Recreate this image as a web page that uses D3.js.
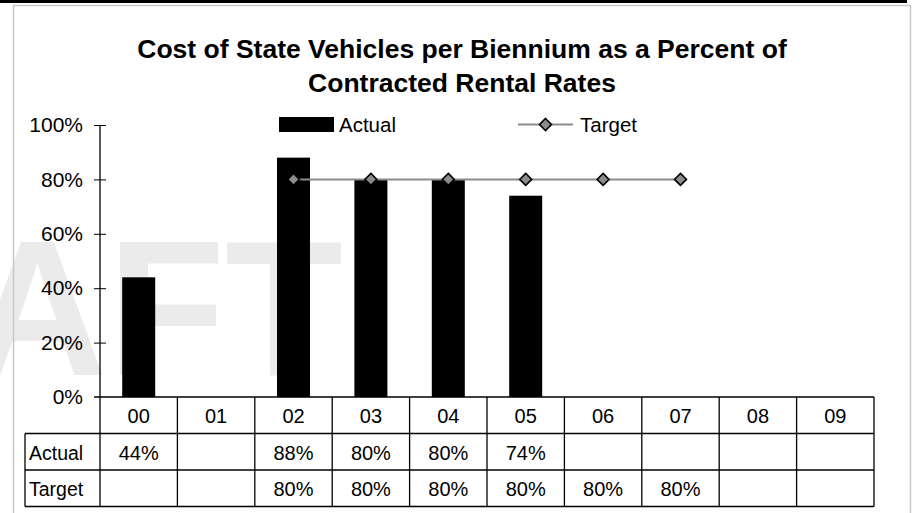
<!DOCTYPE html>
<html>
<head>
<meta charset="utf-8">
<script src="https://cdn.jsdelivr.net/npm/d3@7"></script>
<style>
  body { margin: 0; background: #fff; }
  text { font-family: Arial, "Liberation Sans", sans-serif; }
</style>
</head>
<body>
<script>
var categories = ['00', '01', '02', '03', '04', '05', '06', '07', '08', '09'],
    actual = [0.44, null, 0.88, 0.80, 0.80, 0.74, null, null, null, null],
    target = [null, null, 0.80, 0.80, 0.80, 0.80, 0.80, 0.80, null, null],
    yTicks = [0, 0.2, 0.4, 0.6, 0.8, 1.0],
    titleLines = ['Cost of State Vehicles per Biennium as a Percent of', 'Contracted Rental Rates'];

var width = 912,
    height = 513,
    plotLeft = 100, plotRight = 874,
    plotTop = 125, plotBottom = 397,
    rowH = 36.5;

var svg = d3.select('body').append('svg')
    .attr('width', width)
    .attr('height', height);

svg.append('rect').attr('width', width).attr('height', height).attr('fill', '#fff');

// watermark
svg.append('text')
    .attr('x', 343).attr('y', 375)
    .attr('text-anchor', 'end')
    .attr('font-size', 193)
    .attr('font-weight', 'bold')
    .attr('fill', '#ebebeb')
    .text('DRAFT');

// page edge + chart frame
svg.append('rect').attr('x', 0).attr('y', 0).attr('width', 907).attr('height', 3).attr('fill', '#000');
svg.append('rect')
    .attr('x', 13.5).attr('y', 5.5)
    .attr('width', 897).attr('height', 530)
    .attr('fill', 'none')
    .attr('stroke', '#c8c8c8')
    .attr('stroke-width', 1.5);

var x = d3.scaleBand().domain(categories).range([plotLeft, plotRight]).padding(0);
var y = d3.scaleLinear().domain([0, 1]).range([plotBottom, plotTop]);

// title
svg.append('g').selectAll('text')
    .data(titleLines)
    .enter().append('text')
    .attr('x', 462)
    .attr('y', (d, i) => 58 + i * 33.5)
    .attr('text-anchor', 'middle')
    .attr('font-size', 26.5)
    .attr('font-weight', 'bold')
    .text(d => d);

// y axis
var yAxis = svg.append('g')
    .attr('transform', 'translate(' + plotLeft + ',0)')
    .call(d3.axisLeft(y).tickValues(yTicks).tickFormat(d3.format('.0%')).tickSize(6).tickPadding(11));
yAxis.select('.domain').remove();
yAxis.selectAll('.tick line').attr('x2', d => d === 0 ? -6 : 6).attr('x1', -6).attr('stroke', '#000');
yAxis.selectAll('.tick text')
    .attr('font-size', 21)
    .attr('font-family', 'Arial, "Liberation Sans", sans-serif')
    .attr('fill', '#000');

// bars
var barW = 33;
svg.append('g').selectAll('rect')
    .data(categories.map((c, i) => ({c: c, v: actual[i]})).filter(d => d.v != null))
    .enter().append('rect')
    .attr('x', d => x(d.c) + x.bandwidth() / 2 - barW / 2)
    .attr('y', d => y(d.v))
    .attr('width', barW)
    .attr('height', d => y(0) - y(d.v))
    .attr('fill', '#000');

// target line
var tgt = categories.map((c, i) => ({c: c, v: target[i]})).filter(d => d.v != null);
var line = d3.line()
    .x(d => x(d.c) + x.bandwidth() / 2)
    .y(d => y(d.v));
svg.append('path')
    .datum(tgt)
    .attr('d', line)
    .attr('fill', 'none')
    .attr('stroke', '#8c8c8c')
    .attr('stroke-width', 2);

var diamond = 'M0,-6L6,0L0,6L-6,0Z';
svg.append('g').selectAll('path')
    .data(tgt)
    .enter().append('path')
    .attr('transform', d => 'translate(' + (x(d.c) + x.bandwidth() / 2) + ',' + y(d.v) + ')')
    .attr('d', diamond)
    .attr('fill', '#8c8c8c')
    .attr('stroke', '#000')
    .attr('stroke-width', 1.6);

// legend
var legend = svg.append('g').attr('font-size', 20.5);
legend.append('rect').attr('x', 279).attr('y', 117).attr('width', 55).attr('height', 15).attr('fill', '#000');
legend.append('text').attr('x', 339).attr('y', 131.5).text('Actual');
legend.append('line').attr('x1', 518).attr('x2', 573).attr('y1', 124.5).attr('y2', 124.5)
    .attr('stroke', '#8c8c8c').attr('stroke-width', 2);
legend.append('path').attr('transform', 'translate(545.5,124.5)').attr('d', diamond)
    .attr('fill', '#8c8c8c').attr('stroke', '#000').attr('stroke-width', 1.6);
legend.append('text').attr('x', 580).attr('y', 131.5).text('Target');

// data table
var table = svg.append('g').attr('stroke', '#000').attr('stroke-width', 1.3);
var tableLeft = 25;
// axis line running down into the table
table.append('line').attr('x1', plotLeft).attr('x2', plotLeft).attr('y1', plotTop).attr('y2', plotBottom + 3 * rowH);
table.append('line').attr('x1', plotLeft - 6).attr('x2', plotRight).attr('y1', plotBottom).attr('y2', plotBottom);
[1, 2, 3].forEach(function (r) {
    table.append('line').attr('x1', tableLeft).attr('x2', plotRight)
        .attr('y1', plotBottom + r * rowH).attr('y2', plotBottom + r * rowH);
});
table.append('line').attr('x1', tableLeft).attr('x2', tableLeft)
    .attr('y1', plotBottom + rowH).attr('y2', plotBottom + 3 * rowH);
table.selectAll('line.col')
    .data(categories)
    .enter().append('line')
    .attr('class', 'col')
    .attr('x1', d => x(d) + x.bandwidth()).attr('x2', d => x(d) + x.bandwidth())
    .attr('y1', plotBottom).attr('y2', plotBottom + 3 * rowH);

var cells = svg.append('g').attr('font-size', 20).attr('text-anchor', 'middle');
cells.selectAll('text.cat')
    .data(categories)
    .enter().append('text')
    .attr('class', 'cat')
    .attr('x', d => x(d) + x.bandwidth() / 2)
    .attr('y', plotBottom + 26)
    .text(d => d);

var fmt = d3.format('.0%');
[['Actual', actual], ['Target', target]].forEach(function (row, r) {
    var yy = plotBottom + (r + 1) * rowH + 26;
    svg.append('text').attr('x', 29).attr('y', yy).attr('font-size', 19.5).text(row[0]);
    cells.selectAll('text.r' + r)
        .data(categories.map((c, i) => ({c: c, v: row[1][i]})).filter(d => d.v != null))
        .enter().append('text')
        .attr('class', 'r' + r)
        .attr('x', d => x(d.c) + x.bandwidth() / 2)
        .attr('y', yy)
        .text(d => fmt(d.v));
});
</script>
</body>
</html>
